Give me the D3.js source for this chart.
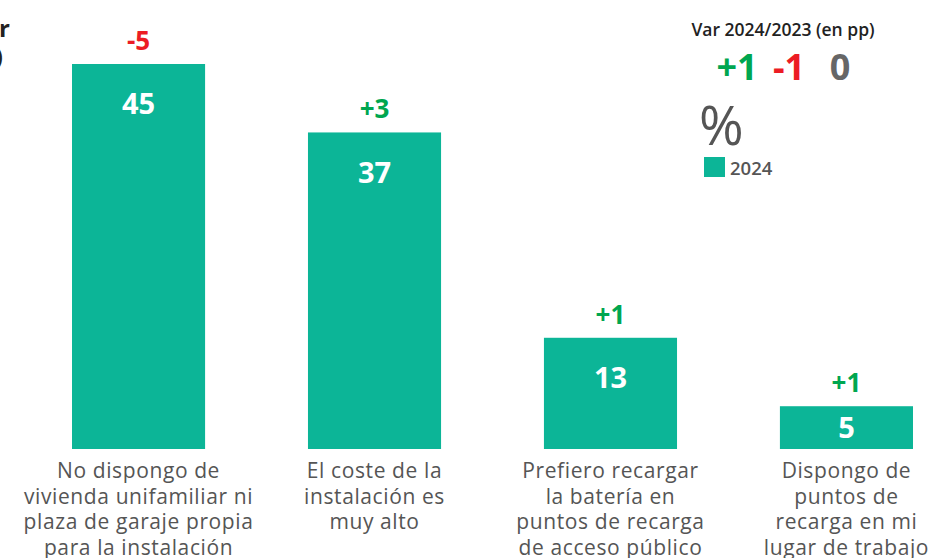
<!DOCTYPE html>
<html><head><meta charset="utf-8">
<script src="https://cdn.jsdelivr.net/npm/d3@7"></script>
<style>
html,body{margin:0;padding:0;background:#fff;overflow:hidden}
svg{display:block}
</style></head>
<body>
<svg id="chart" width="935" height="558"></svg>
<script>
const categories = [
  ["No dispongo de","vivienda unifamiliar ni","plaza de garaje propia","para la instalación"],
  ["El coste de la","instalación es","muy alto"],
  ["Prefiero recargar","la batería en","puntos de recarga","de acceso público"],
  ["Dispongo de","puntos de","recarga en mi","lugar de trabajo"]
];
const values2024 = [45, 37, 13, 5];
const variation = [-5, 3, 1, 1];
const legendVarLabels = ["+1", "-1", "0"];
const legendSeries = ["2024"];
const titleLines = ["Motivos por", "los que no instalaría un punto de recarga en su domicilio"];

const BAR = "#0cb597", GREEN = "#00a650", RED = "#ec1c24", GRAY = "#666666";
const FONT = "'Open Sans', 'Noto Sans', sans-serif";

const svg = d3.select("#chart");
const x = d3.scaleBand().domain(d3.range(categories.length)).range([72, 913]).paddingInner(0.436).paddingOuter(0);
const y = d3.scaleLinear().domain([0, 45]).range([449, 64]);

// Clipped title at left edge
svg.append("text").attr("x", 10).attr("y", 37).attr("text-anchor", "end")
  .attr("font-family", FONT).attr("font-weight", 700).attr("font-size", 24).attr("fill", "#222")
  .text(titleLines[0]);
svg.append("text").attr("x", 3).attr("y", 65).attr("text-anchor", "end")
  .attr("font-family", FONT).attr("font-weight", 700).attr("font-size", 24).attr("fill", "#222")
  .text(titleLines[1] + ")");

// Bars
svg.selectAll("rect.bar").data(values2024).join("rect").attr("class", "bar")
  .attr("x", (d, i) => x(i)).attr("width", x.bandwidth())
  .attr("y", d => y(d)).attr("height", d => y(0) - y(d)).attr("fill", BAR);

// Value labels inside bars
svg.selectAll("text.val").data(values2024).join("text").attr("class", "val")
  .attr("x", (d, i) => x(i) + x.bandwidth() / 2)
  .attr("y", d => { const h = y(0) - y(d); return y(d) + Math.min(h / 2, 40); })
  .attr("dy", "0.36em").attr("text-anchor", "middle")
  .attr("font-family", FONT).attr("font-weight", 700).attr("font-size", 29).attr("fill", "#fff")
  .text(d => d);

// Variation labels above bars
const fmt = v => (v > 0 ? "+" + v : (v < 0 ? "-" + Math.abs(v) : "0"));
svg.selectAll("text.var").data(variation).join("text").attr("class", "var")
  .attr("x", (d, i) => x(i) + x.bandwidth() / 2)
  .attr("y", (d, i) => y(values2024[i]) - 14)
  .attr("text-anchor", "middle")
  .attr("font-family", FONT).attr("font-weight", 700).attr("font-size", 26)
  .attr("fill", d => d > 0 ? GREEN : (d < 0 ? RED : GRAY))
  .text(fmt);

// Category labels
categories.forEach((lines, i) => {
  const t = svg.append("text").attr("text-anchor", "middle")
    .attr("font-family", FONT).attr("font-size", 21).attr("font-weight", 500)
    .attr("letter-spacing", 0.6).attr("fill", "#555");
  lines.forEach((l, j) => {
    t.append("tspan").attr("x", x(i) + x.bandwidth() / 2).attr("y", 478 + j * 25.7).text(l);
  });
});

// Legend
svg.append("text").attr("x", 783).attr("y", 36).attr("text-anchor", "middle")
  .attr("font-family", FONT).attr("font-size", 17.5).attr("font-weight", 600).attr("fill", "#222")
  .text("Var 2024/2023 (en pp)");
const legX = [737, 789, 840];
const legCol = [GREEN, RED, GRAY];
legendVarLabels.forEach((l, i) => {
  svg.append("text").attr("x", legX[i]).attr("y", 80).attr("text-anchor", "middle")
    .attr("font-family", FONT).attr("font-weight", 700).attr("font-size", 36).attr("fill", legCol[i])
    .text(l);
});
svg.append("text").attr("x", 699).attr("y", 145)
  .attr("font-family", FONT).attr("font-size", 54).attr("fill", "#555").text("%");
svg.append("rect").attr("x", 704).attr("y", 157).attr("width", 21).attr("height", 20).attr("fill", BAR);
svg.append("text").attr("x", 730).attr("y", 175)
  .attr("font-family", FONT).attr("font-size", 18.5).attr("font-weight", 600).attr("fill", "#555")
  .text(legendSeries[0]);
</script>
</body></html>
